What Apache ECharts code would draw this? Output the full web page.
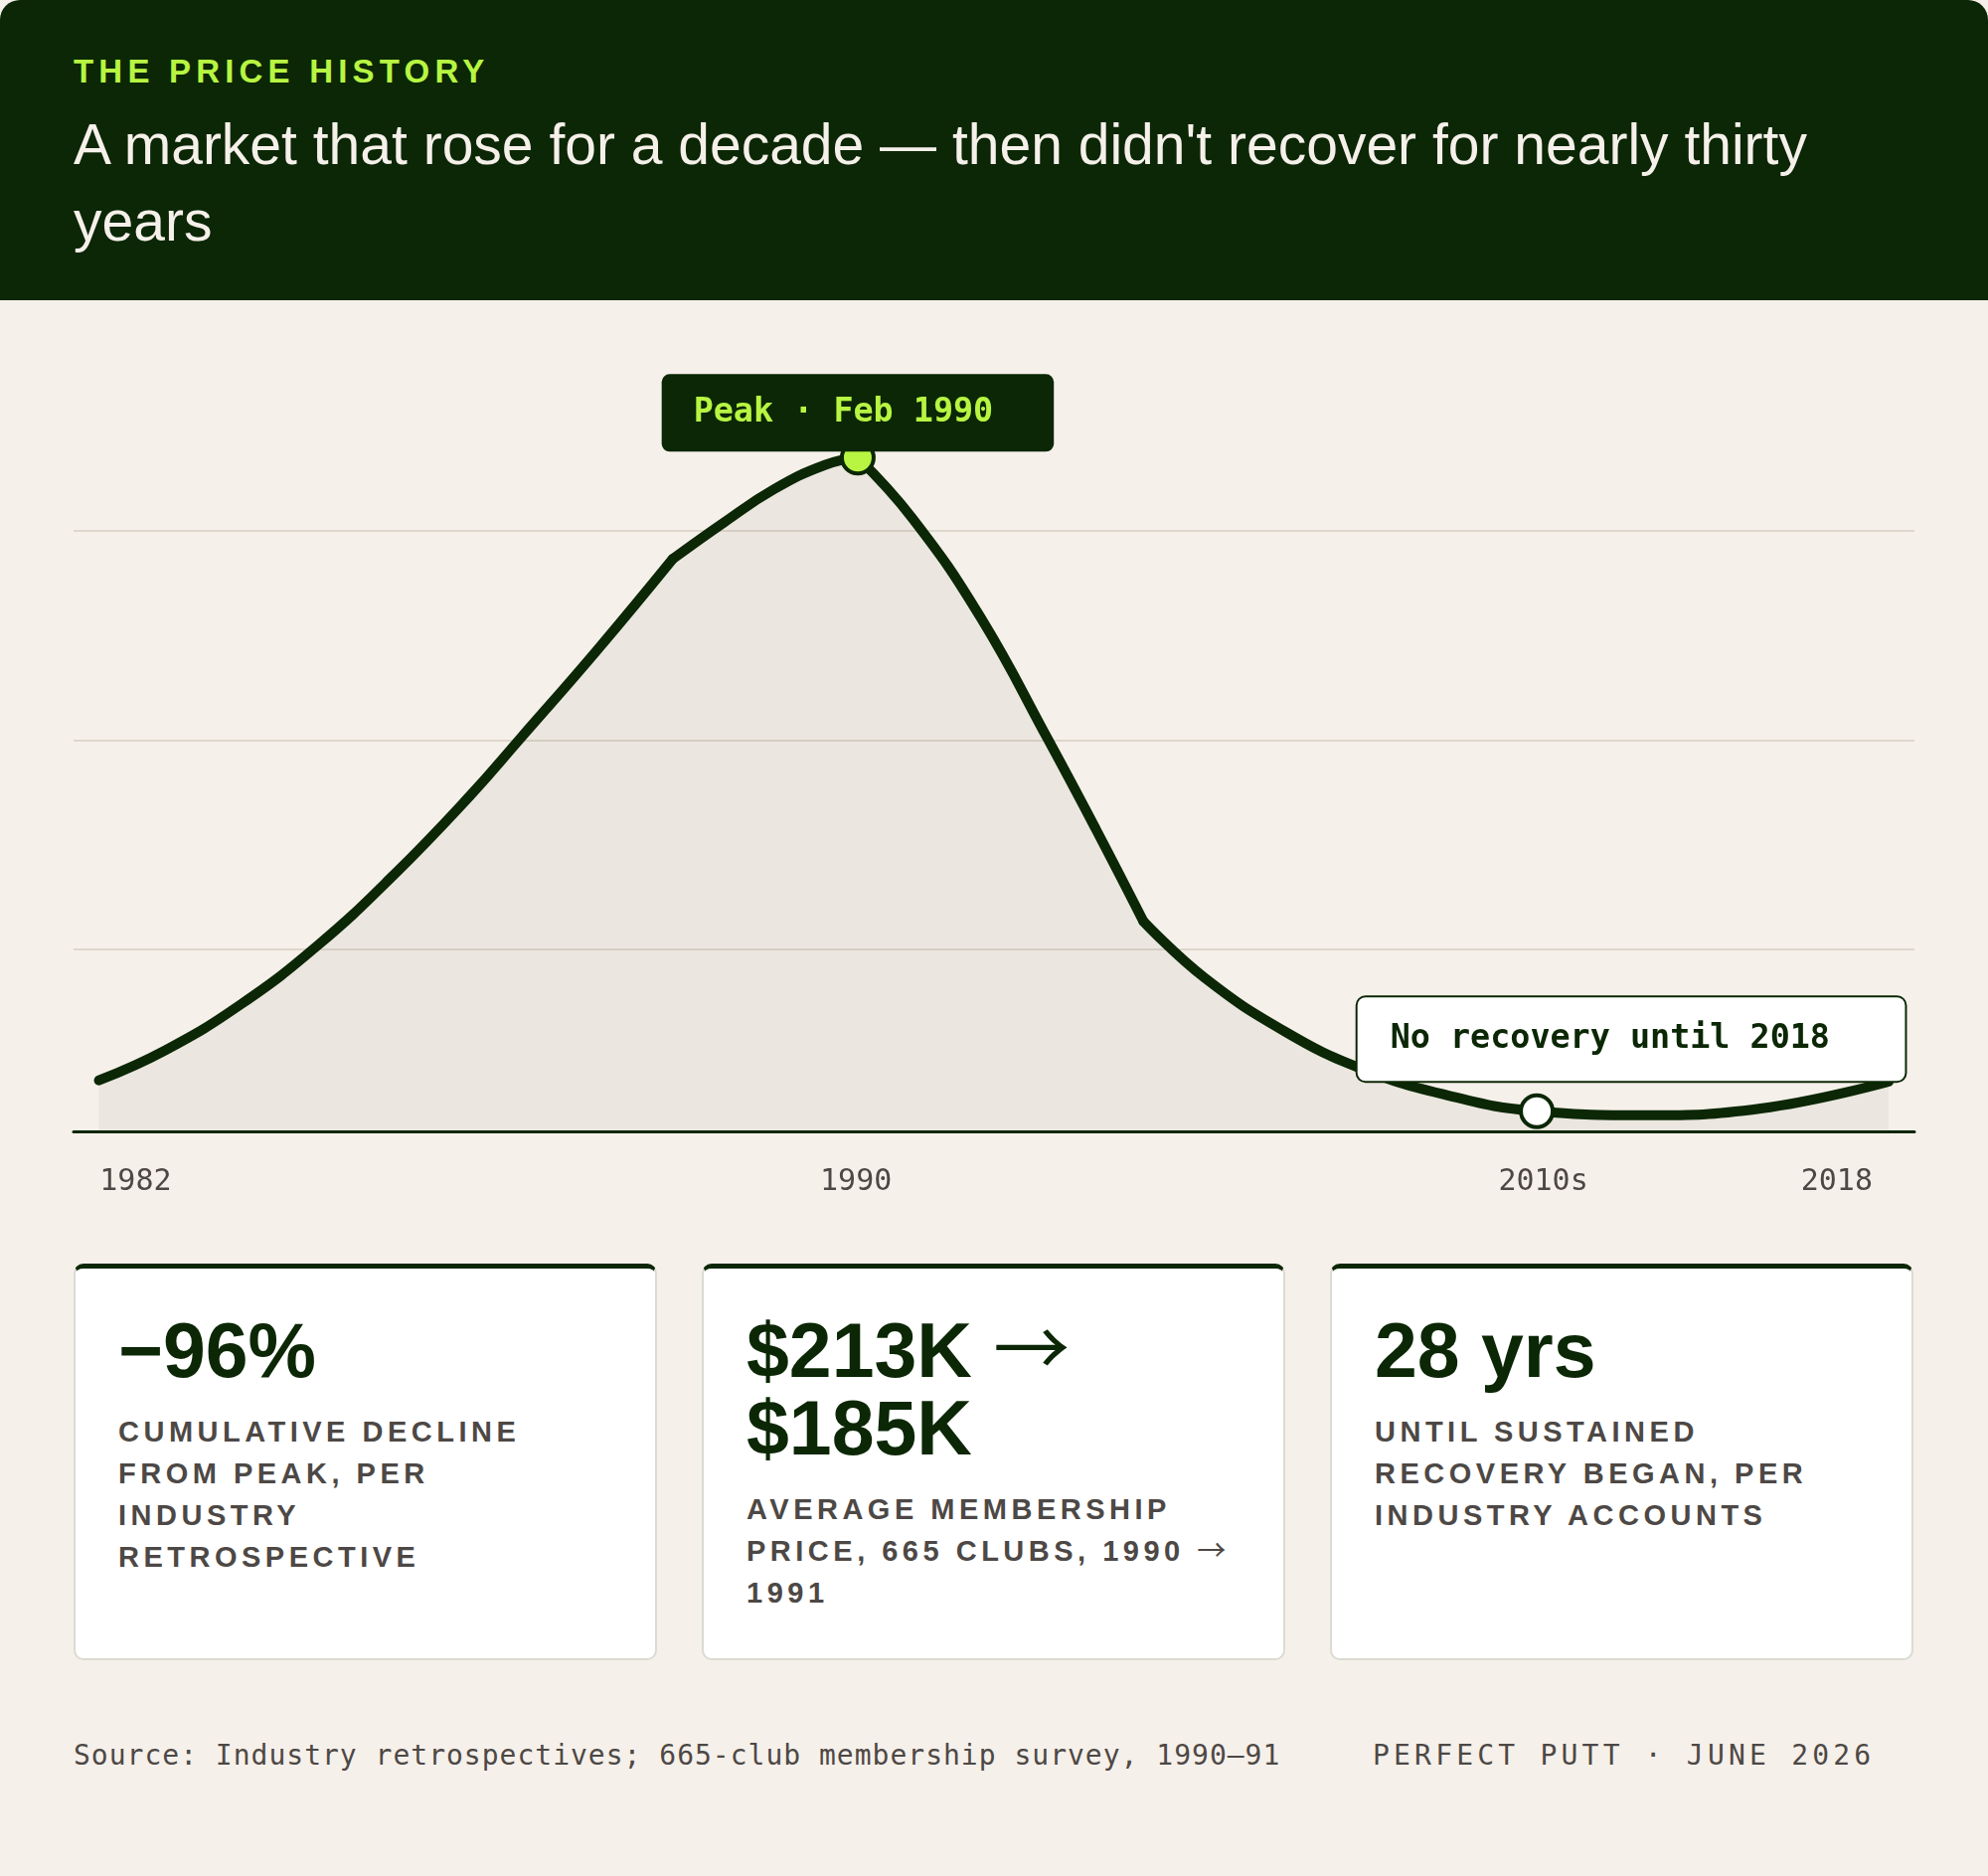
<!DOCTYPE html>
<html>
<head>
<meta charset="utf-8">
<script src="https://cdn.jsdelivr.net/npm/echarts@6/dist/echarts.min.js"></script>
<style>
html,body{margin:0;padding:0;background:#f6f0ea;overflow:hidden;}
#page{position:relative;width:2000px;height:1887px;background:#f6f0ea;border-radius:20px 20px 0 0;overflow:hidden;font-family:'Liberation Sans',Arial,Helvetica,sans-serif;}
#header{position:absolute;left:0;top:0;width:2000px;height:302px;background:#0b2705;}
.kicker{position:absolute;left:74px;top:55px;font-size:33px;line-height:33px;font-weight:700;letter-spacing:5.2px;color:#b7f542;white-space:nowrap;}
.title{position:absolute;left:74px;top:107px;width:1852px;font-size:57px;line-height:77px;color:#f6f0ea;font-weight:400;}
#chart{position:absolute;left:0;top:302px;width:2000px;height:950px;}
.card{position:absolute;top:1271px;width:587px;height:399px;box-sizing:border-box;background:#ffffff;border:2px solid #dadbd2;border-top:5px solid #0b2705;border-radius:10px;padding:43px 40px 0 43px;}
.big{font-size:77px;line-height:78px;font-weight:700;color:#0b2705;white-space:nowrap;}
.sub{margin-top:22px;font-size:29px;line-height:42px;font-weight:700;letter-spacing:4.5px;color:#4d4845;white-space:nowrap;}
.arr{font-family:'Noto Sans CJK SC','DejaVu Sans',sans-serif;font-weight:400;line-height:0;}
.foot{position:absolute;top:1752px;font-family:'DejaVu Sans Mono',monospace;font-size:28px;line-height:28px;color:#4d4845;white-space:nowrap;}
</style>
</head>
<body>
<div id="page">
  <div id="header">
    <div class="kicker">THE PRICE HISTORY</div>
    <div class="title">A market that rose for a decade — then didn't recover for nearly thirty years</div>
  </div>
  <div id="chart"></div>
  <div class="card" style="left:74px;">
    <div class="big">−96%</div>
    <div class="sub">CUMULATIVE DECLINE<br>FROM PEAK, PER<br>INDUSTRY<br>RETROSPECTIVE</div>
  </div>
  <div class="card" style="left:706px;">
    <div class="big">$213K <span class="arr">→</span><br>$185K</div>
    <div class="sub">AVERAGE MEMBERSHIP<br>PRICE, 665 CLUBS, 1990 <span class="arr">→</span><br>1991</div>
  </div>
  <div class="card" style="left:1338px;">
    <div class="big">28 yrs</div>
    <div class="sub">UNTIL SUSTAINED<br>RECOVERY BEGAN, PER<br>INDUSTRY ACCOUNTS</div>
  </div>
  <div class="foot" style="left:74px;letter-spacing:1px;">Source: Industry retrospectives; 665-club membership survey, 1990–91</div>
  <div class="foot" style="left:1381px;letter-spacing:4.2px;">PERFECT PUTT · JUNE 2026</div>
</div>
<script>
// ---- data ----
// horizontal position along the timeline (0 = 1982 start, 100 = 2018 end)
const timelinePos = [0, 3.72, 7.97, 12.22, 16.47, 20.73, 23.56, 27.8, 32.06, 34.9, 37.73, 40.56, 42.4, 45.47, 49.26, 53.05, 55.71, 58.36, 61.77, 66.32, 70.49, 75.0, 80.34, 86.4, 92.85, 100];
// relative price level (peak ≈ 100)
const priceIndex = [7.6, 12.1, 19.0, 27.7, 38.2, 50.0, 58.6, 71.6, 85.3, 90.7, 95.7, 99.3, 100.4, 91.3, 76.6, 58.3, 45.0, 31.3, 22.9, 14.8, 9.4, 5.6, 3.0, 2.4, 3.4, 7.4];
// indices where the drawn path has corners (segment boundaries)
const cornerIdx = [0, 8, 12, 17, 25];
// x-axis tick labels and their positions
const xLabels = ['1982', '1990', '2010s', '2018'];
const xLabelPos = [2.05, 42.3, 80.7, 97.1];
// horizontal gridline values
const gridValues = [27.1, 58.3, 89.5];
// annotated points
const peakIdx = 12;
const recoveryIdx = 22;
const peakText = 'Peak · Feb 1990';
const recoveryText = 'No recovery until 2018';

const DARK = '#0b2705';
const LIME = '#b7f542';
const MONO = "'DejaVu Sans Mono', monospace";

const points = timelinePos.map((x, i) => [x, priceIndex[i]]);

const segmentSeries = [];
for (let s = 0; s < cornerIdx.length - 1; s++) {
  segmentSeries.push({
    type: 'line',
    name: 'price-' + s,
    data: points.slice(cornerIdx[s], cornerIdx[s + 1] + 1),
    smooth: 0.45,
    showSymbol: false,
    symbol: 'none',
    silent: true,
    z: 2,
    lineStyle: {color: DARK, width: 10, cap: 'round', join: 'round'},
    areaStyle: {color: 'rgba(100,96,80,0.1)'}
  });
}

const chart = echarts.init(document.getElementById('chart'), null, {renderer: 'canvas'});
chart.setOption({
  animation: false,
  backgroundColor: 'transparent',
  grid: {left: 74, right: 74, top: 93.5, bottom: 114, containLabel: false, outerBoundsMode: 'none'},
  xAxis: {
    type: 'value',
    min: -1.416,
    max: 101.44,
    splitLine: {show: false},
    axisTick: {show: false},
    axisLine: {show: true, onZero: true, lineStyle: {color: DARK, width: 3}},
    axisLabel: {
      customValues: xLabelPos,
      formatter: function (v) {
        const i = xLabelPos.findIndex(p => Math.abs(p - v) < 1e-6);
        return i >= 0 ? xLabels[i] : '';
      },
      margin: 36,
      fontFamily: MONO,
      fontSize: 30,
      color: '#4d4845'
    }
  },
  yAxis: {
    type: 'value',
    min: 0,
    max: 110,
    axisLine: {show: false},
    axisLabel: {show: false},
    axisTick: {show: false, customValues: gridValues},
    splitLine: {show: true, lineStyle: {color: '#ddd7cc', width: 2}}
  },
  series: segmentSeries.concat([
    {
      type: 'scatter',
      z: 5,
      silent: true,
      data: [[timelinePos[peakIdx], priceIndex[peakIdx]]],
      symbol: 'circle',
      symbolSize: 32,
      itemStyle: {color: LIME, borderColor: DARK, borderWidth: 4, opacity: 1},
      label: {
        show: true,
        position: 'top',
        distance: -12,
        formatter: peakText,
        fontFamily: MONO,
        fontWeight: 'bold',
        fontSize: 33.4,
        lineHeight: 40,
        color: LIME,
        backgroundColor: DARK,
        borderRadius: 8,
        padding: [19, 61, 19, 32]
      }
    },
    {
      type: 'scatter',
      z: 5,
      silent: true,
      data: [[timelinePos[recoveryIdx], priceIndex[recoveryIdx]]],
      symbol: 'circle',
      symbolSize: 32,
      itemStyle: {color: '#ffffff', borderColor: DARK, borderWidth: 4, opacity: 1},
      label: {
        show: true,
        position: 'top',
        distance: 12.5,
        offset: [95, 0],
        formatter: recoveryText,
        fontFamily: MONO,
        fontWeight: 'bold',
        fontSize: 33.4,
        lineHeight: 40,
        color: DARK,
        backgroundColor: '#ffffff',
        borderColor: DARK,
        borderWidth: 2,
        borderRadius: 8,
        padding: [22, 75.5, 22, 33]
      }
    }
  ])
});
</script>
</body>
</html>
